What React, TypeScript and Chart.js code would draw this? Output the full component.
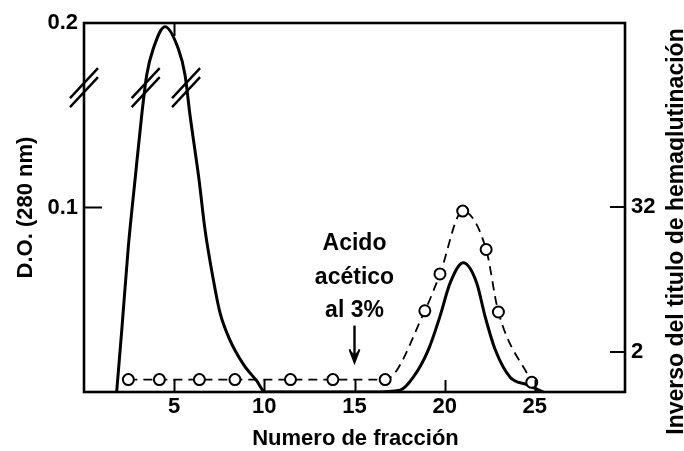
import React, { useEffect, useRef } from "react";
import { Chart, registerables } from "chart.js";

Chart.register(...registerables);

const FONT = '"Liberation Sans", Arial, Helvetica, sans-serif';

// Axis ticks
const xTicks = [5, 10, 15, 20, 25];
const topTicks = [5];
const leftTicks = [0.1, 0.2];
const rightTicks = [2, 32];

// Solid line: D.O. (280 nm) vs fraction
const solidX = [1.81, 2.09, 2.46, 2.83, 3.2, 3.48, 3.84, 4.49, 5.23, 5.6, 5.88, 6.38, 6.71, 7.17, 7.54, 8.1, 8.84, 9.58, 10.04, 16.0, 17.53, 18.26, 19.1, 19.74, 20.3, 21.03, 21.78, 22.24, 22.8, 23.63, 24.55, 25.47];
const solidY = [0.0, 0.033, 0.079, 0.115, 0.15, 0.172, 0.186, 0.198, 0.186, 0.172, 0.15, 0.115, 0.088, 0.061, 0.043, 0.028, 0.015, 0.006, 0.0, 0.0, 0.001, 0.008, 0.023, 0.041, 0.059, 0.07, 0.059, 0.041, 0.023, 0.008, 0.004, 0.0];

// Dashed line with circles: inverse of hemagglutination titre
const titerX = [2.46, 4.18, 6.4, 8.37, 11.45, 13.8, 16.7, 18.9, 19.74, 21.0, 22.3, 22.98, 24.83];
const titerY = [1.18, 1.18, 1.18, 1.18, 1.18, 1.18, 1.18, 4.4, 8.9, 29.6, 14.2, 4.3, 1.12];

// Texts
const xTitle = "Numero de fracción";
const leftTitle = "D.O. (280 nm)";
const rightTitle = "Inverso del titulo de hemaglutinación";
const annotLines = ["Acido", "acético", "al 3%"];
const annotBaselines = [0.0772, 0.0588, 0.0405]; // D.O. units
const arrowFraction = 15;
const arrowFrom = 0.036;
const arrowTo = 0.016;

// Axis-break marks (D.O. value, fractions on curve)
const breakOD = 0.165;
const breakFractions = [0, 3.42, 5.66];

const decor = {
  id: "decor",
  afterDraw(chart: any) {
    const { ctx, chartArea: a, scales } = chart;
    const x = scales.x, y = scales.y, y2 = scales.y2;
    ctx.save();
    ctx.strokeStyle = "#000";
    ctx.fillStyle = "#000";
    ctx.lineCap = "butt";

    // frame
    ctx.lineWidth = 2.6;
    ctx.strokeRect(a.left, a.top, a.right - a.left, a.bottom - a.top);

    // inward ticks
    ctx.lineWidth = 2;
    ctx.beginPath();
    xTicks.forEach((v) => {
      const px = Math.round(x.getPixelForValue(v)) + 0.5;
      ctx.moveTo(px, a.bottom);
      ctx.lineTo(px, a.bottom - 12);
    });
    topTicks.forEach((v) => {
      const px = Math.round(x.getPixelForValue(v)) + 0.5;
      ctx.moveTo(px, a.top);
      ctx.lineTo(px, a.top + 13);
    });
    leftTicks.filter((v) => v < 0.2).forEach((v) => {
      const py = y.getPixelForValue(v);
      ctx.moveTo(a.left, py);
      ctx.lineTo(a.left + 18, py);
    });
    rightTicks.forEach((v) => {
      const py = y2.getPixelForValue(v);
      ctx.moveTo(a.right, py);
      ctx.lineTo(a.right - 15, py);
    });
    ctx.stroke();

    // axis breaks
    ctx.lineWidth = 2.4;
    ctx.beginPath();
    const by = y.getPixelForValue(breakOD);
    breakFractions.forEach((f) => {
      const bx = x.getPixelForValue(f);
      [-4.5, 4.5].forEach((off) => {
        ctx.moveTo(bx - 14, by + off + 15);
        ctx.lineTo(bx + 14, by + off - 15);
      });
    });
    ctx.stroke();

    // annotation
    const ax = x.getPixelForValue(arrowFraction);
    ctx.font = `bold 23px ${FONT}`;
    ctx.textAlign = "center";
    ctx.textBaseline = "alphabetic";
    annotLines.forEach((t, i) => {
      ctx.fillText(t, ax, y.getPixelForValue(annotBaselines[i]));
    });
    const ay1 = y.getPixelForValue(arrowFrom);
    const ay2 = y.getPixelForValue(arrowTo);
    ctx.lineWidth = 2.4;
    ctx.beginPath();
    ctx.moveTo(ax, ay1);
    ctx.lineTo(ax, ay2 - 4);
    ctx.stroke();
    ctx.beginPath();
    ctx.moveTo(ax - 5, ay2 - 13);
    ctx.lineTo(ax, ay2);
    ctx.lineTo(ax + 5, ay2 - 13);
    ctx.lineTo(ax, ay2 - 8);
    ctx.closePath();
    ctx.fill();
    ctx.beginPath();
    ctx.moveTo(ax - 5, ay2 - 13);
    ctx.lineTo(ax, ay2);
    ctx.lineTo(ax + 5, ay2 - 13);
    ctx.lineWidth = 2;
    ctx.stroke();

    // titles
    ctx.font = `bold 22px ${FONT}`;
    ctx.textAlign = "center";
    ctx.textBaseline = "alphabetic";
    ctx.fillText(xTitle, (a.left + a.right) / 2 + 1, 445);

    ctx.save();
    ctx.translate(31.5, (a.top + a.bottom) / 2);
    ctx.rotate(-Math.PI / 2);
    ctx.fillText(leftTitle, 0, 0);
    ctx.restore();

    ctx.save();
    ctx.font = `bold 23px ${FONT}`;
    ctx.translate(683, 231.5);
    ctx.rotate(-Math.PI / 2);
    ctx.fillText(rightTitle, 0, 0);
    ctx.restore();

    ctx.restore();
  },
};

export default function App() {
  const ref = useRef<HTMLCanvasElement | null>(null);

  useEffect(() => {
    if (!ref.current) return;
    const tickFont = { family: FONT, size: 22, weight: "bold" as const };
    const chart = new Chart(ref.current, {
      type: "line",
      data: {
        datasets: [
          {
            label: "titer",
            data: titerX.map((v, i) => ({ x: v, y: titerY[i] })),
            yAxisID: "y2",
            borderColor: "#000",
            borderWidth: 1.8,
            borderDash: [9, 6],
            pointRadius: 5.5,
            pointBorderWidth: 2,
            pointBorderColor: "#000",
            pointBackgroundColor: "#fff",
            cubicInterpolationMode: "monotone",
            fill: false,
          },
          {
            label: "DO",
            data: solidX.map((v, i) => ({ x: v, y: solidY[i] })),
            yAxisID: "y",
            borderColor: "#000",
            borderWidth: 3,
            pointRadius: 0,
            cubicInterpolationMode: "monotone",
            fill: false,
          },
        ],
      },
      options: {
        animation: false,
        responsive: false,
        devicePixelRatio: 1,
        layout: { padding: { top: 23, left: 0, right: 0, bottom: 0 } },
        plugins: { legend: { display: false }, tooltip: { enabled: false } },
        scales: {
          x: {
            type: "linear",
            min: 0,
            max: 30,
            grid: { display: false, drawTicks: false },
            border: { display: false },
            afterBuildTicks: (s: any) => {
              s.ticks = xTicks.map((v) => ({ value: v }));
            },
            afterFit: (s: any) => {
              s.height = 59;
            },
            ticks: {
              font: tickFont,
              color: "#000",
              padding: 2,
              maxRotation: 0,
              autoSkip: false,
              callback: (v: any) => String(v),
            },
          },
          y: {
            type: "linear",
            position: "left",
            min: 0,
            max: 0.2,
            grid: { display: false, drawTicks: false },
            border: { display: false },
            afterBuildTicks: (s: any) => {
              s.ticks = leftTicks.map((v) => ({ value: v }));
            },
            afterFit: (s: any) => {
              s.width = 84;
            },
            ticks: {
              font: tickFont,
              color: "#000",
              padding: 6,
              callback: (v: any) => Number(v).toFixed(1),
            },
          },
          y2: {
            type: "logarithmic",
            position: "right",
            min: 0.931,
            max: 1080,
            grid: { display: false, drawTicks: false },
            border: { display: false },
            afterBuildTicks: (s: any) => {
              s.ticks = rightTicks.map((v) => ({ value: v }));
            },
            afterFit: (s: any) => {
              s.width = 59;
            },
            ticks: {
              font: tickFont,
              color: "#000",
              padding: 6,
              callback: (v: any) => String(v),
            },
          },
        },
      },
      plugins: [decor],
    });
    return () => chart.destroy();
  }, []);

  return (
    <div style={{ position: "absolute", left: 0, top: 0, width: 684, height: 451, background: "#fff" }}>
      <canvas ref={ref} width={684} height={451} style={{ width: 684, height: 451, display: "block" }} />
    </div>
  );
}
